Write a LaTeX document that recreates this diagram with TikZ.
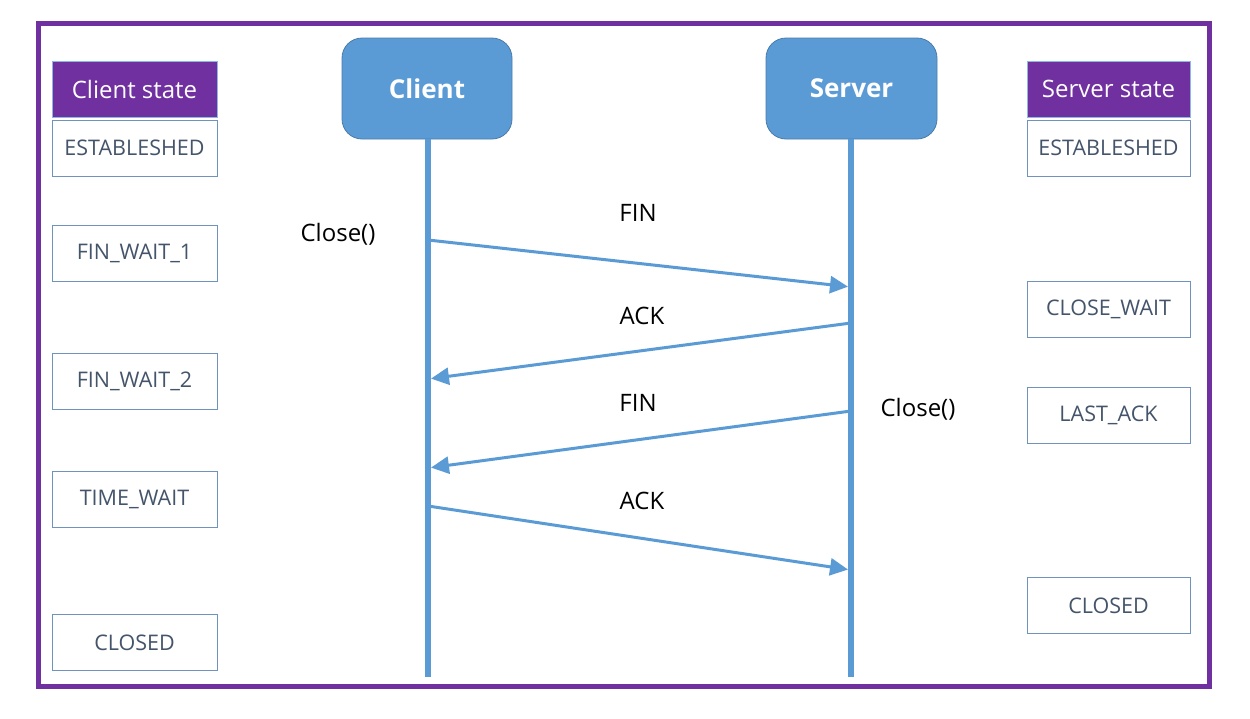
\documentclass[tikz,border=0pt]{standalone}
\usepackage{fontspec}
\setmainfont{Open Sans}
\usetikzlibrary{arrows.meta}
\definecolor{fblue}{HTML}{5B9BD5}
\definecolor{fpurple}{HTML}{7030A0}
\definecolor{ftext}{HTML}{44546A}
\definecolor{fborder}{HTML}{6F93BD}
\tikzset{
  statebox/.style={draw=fborder, line width=1pt, fill=white, text=ftext,
    minimum width=164pt, minimum height=56pt, inner sep=0pt,
    font=\fontsize{21.5}{25}\selectfont},
  headbox/.style={draw=fblue!70, line width=1pt, fill=fpurple, text=white,
    minimum width=164pt, minimum height=56pt, inner sep=0pt,
    font=\fontsize{24}{28}\selectfont},
  hostbox/.style={draw=fblue!80!black, line width=0.8pt, fill=fblue, text=white,
    rounded corners=20pt, minimum width=170pt, minimum height=101pt, inner sep=0pt,
    font=\bfseries\fontsize{26}{30}\selectfont},
  lifeline/.style={draw=fblue, line width=6pt},
  msg/.style={draw=fblue, line width=3pt, -{Triangle[length=18pt,width=17pt]}, shorten >=3pt},
  lbl/.style={text=black, inner sep=0pt, font=\fontsize{24}{28}\selectfont}
}
\begin{document}
\begin{tikzpicture}[x=1pt,y=-1pt]
\useasboundingbox (0,0) rectangle (1250,718);
\fill[white] (0,0) rectangle (1250,718);
\draw[fpurple, line width=5pt] (38,23.5) rectangle (1209,686);

% hosts
\node[hostbox] (client) at (427,88.5) {Client};
\node[hostbox, minimum width=171pt] (server) at (851.5,88.5) {Server};

% lifelines
\coordinate (cend) at (428,677);
\coordinate (send) at (851,677);
\draw[lifeline] (client.south -| cend) -- (cend);
\draw[lifeline] (server.south -| send) -- (send);

% client states
\node[headbox, minimum width=165pt] (chead) at (134.5,89) {Client state};
\node[statebox, minimum width=165pt] (c1) at (134.5,148) {ESTABLESHED};
\node[statebox, minimum width=165pt] (c2) at (134.5,253) {FIN\_WAIT\_1};
\node[statebox, minimum width=165pt] (c3) at (134.5,381) {FIN\_WAIT\_2};
\node[statebox, minimum width=165pt] (c4) at (134.5,499) {TIME\_WAIT};
\node[statebox, minimum width=165pt] (c5) at (134.5,642.5) {CLOSED};

% server states
\node[headbox, minimum width=163pt] (shead) at (1108.5,89) {Server state};
\node[statebox, minimum width=163pt] (s1) at (1108.5,148) {ESTABLESHED};
\node[statebox, minimum width=163pt] (s2) at (1108.5,309) {CLOSE\_WAIT};
\node[statebox, minimum width=163pt] (s3) at (1108.5,415.5) {LAST\_ACK};
\node[statebox, minimum width=163pt] (s4) at (1108.5,605.5) {CLOSED};

% message points
\coordinate (a1) at (428,240);
\coordinate (b1) at (851,287);
\coordinate (b2) at (851,323);
\coordinate (a2) at (428,379);
\coordinate (b3) at (851,411);
\coordinate (a3) at (428,468);
\coordinate (a4) at (428,506);
\coordinate (b4) at (851,570);

\draw[msg] (a1) -- (b1);
\draw[msg] (b2) -- (a2);
\draw[msg] (b3) -- (a3);
\draw[msg] (a4) -- (b4);

% labels
\node[lbl] (l1) at (638,213) {FIN};
\node[lbl] (l2) at (642,316) {ACK};
\node[lbl] (l3) at (638,403) {FIN};
\node[lbl] (l4) at (642,501) {ACK};
\node[lbl] (cc) at (338,234) {Close()};
\node[lbl] (sc) at (918,409) {Close()};
\end{tikzpicture}
\end{document}
